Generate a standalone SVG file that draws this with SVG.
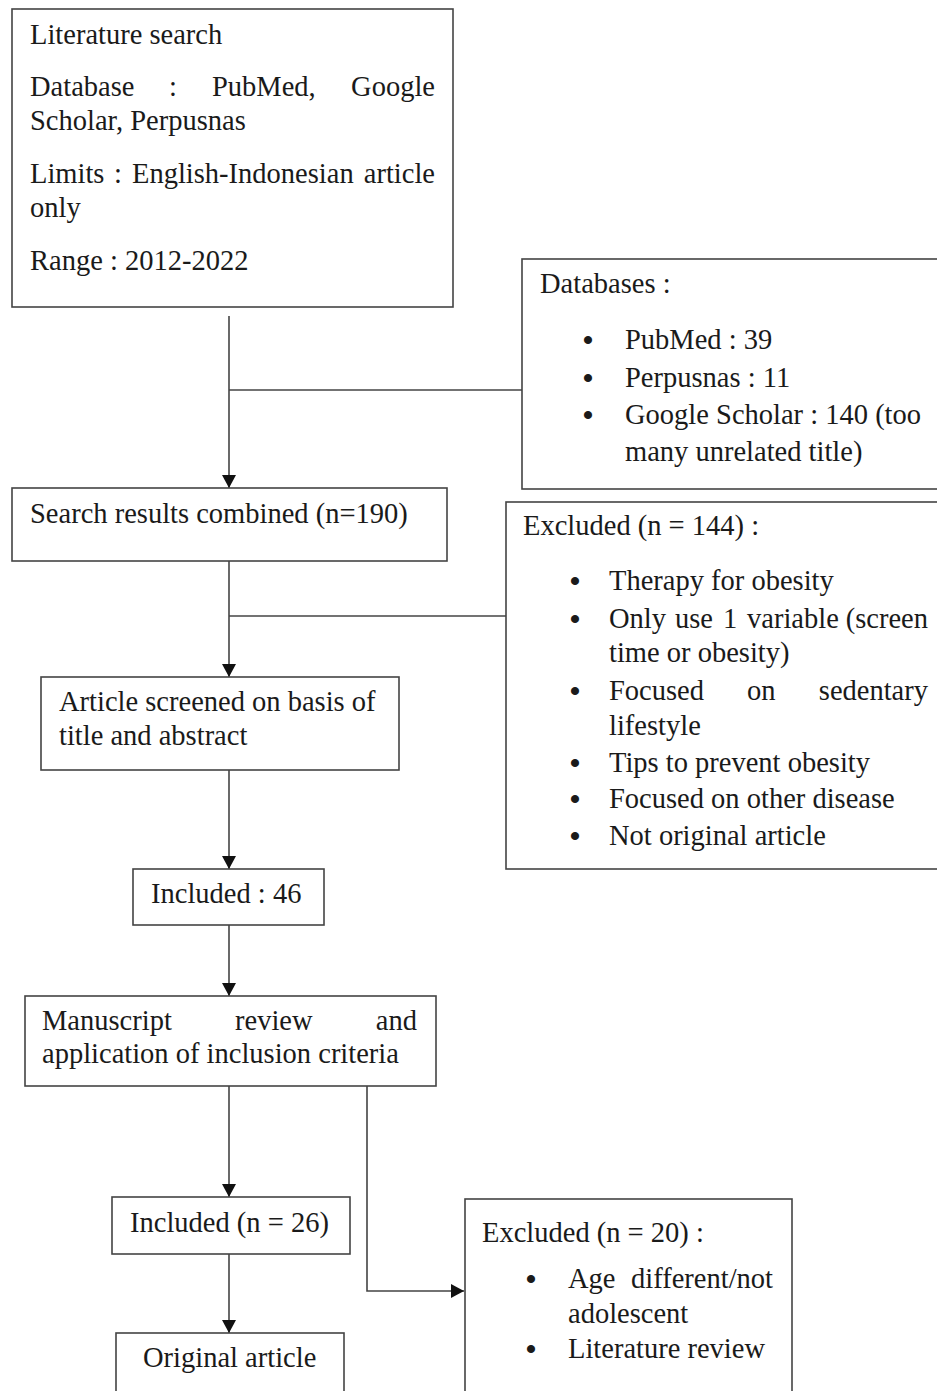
<svg xmlns="http://www.w3.org/2000/svg" width="937" height="1391" viewBox="0 0 937 1391">
<style>
  .box { fill: #fff; stroke: #444; stroke-width: 1.6; }
  .t { font-family: "Liberation Serif", "Times New Roman", serif; font-size: 28.5px; fill: #1a1a1a; }
  .b { font-family: "Liberation Serif", "Times New Roman", serif; font-size: 30px; font-weight: bold; fill: #1a1a1a; text-anchor: middle; }
  .e { text-anchor: end; }
  .conn { fill: none; stroke: #444; stroke-width: 1.6; }
</style>
<defs>
  <marker id="arr" markerUnits="userSpaceOnUse" markerWidth="14" markerHeight="14" refX="13" refY="7" orient="auto">
    <path d="M0,0 L13,7 L0,14 Z" fill="#111"/>
  </marker>
</defs>
<rect width="937" height="1391" fill="#fff"/>

<g id="connectors">
  <line class="conn" x1="229" y1="316" x2="229" y2="488" marker-end="url(#arr)"/>
  <line class="conn" x1="229" y1="390" x2="522" y2="390"/>
  <line class="conn" x1="229" y1="561" x2="229" y2="677" marker-end="url(#arr)"/>
  <line class="conn" x1="229" y1="616" x2="506" y2="616"/>
  <line class="conn" x1="229" y1="770" x2="229" y2="869" marker-end="url(#arr)"/>
  <line class="conn" x1="229" y1="925" x2="229" y2="996" marker-end="url(#arr)"/>
  <line class="conn" x1="229" y1="1086" x2="229" y2="1197" marker-end="url(#arr)"/>
  <line class="conn" x1="229" y1="1254" x2="229" y2="1333" marker-end="url(#arr)"/>
  <polyline class="conn" points="367,1086 367,1291 464,1291" marker-end="url(#arr)"/>
</g>

<g id="literature-search">
  <rect class="box" x="12" y="9" width="441" height="298"/>
  <text class="t" x="30" y="44">Literature search</text>
  <text class="t" y="96"><tspan x="30">Database</tspan><tspan x="169">:</tspan><tspan x="212">PubMed,</tspan><tspan x="435" class="e">Google</tspan></text>
  <text class="t" x="30" y="130">Scholar, Perpusnas</text>
  <text class="t" y="183"><tspan x="30">Limits</tspan><tspan x="114">:</tspan><tspan x="132">English-Indonesian</tspan><tspan x="435" class="e">article</tspan></text>
  <text class="t" x="30" y="217">only</text>
  <text class="t" x="30" y="270">Range : 2012-2022</text>
</g>

<g id="databases">
  <rect class="box" x="522" y="259" width="430" height="230"/>
  <text class="t" x="540" y="293">Databases :</text>
  <text class="b" x="588" y="350">•</text>
  <text class="t" x="625" y="349">PubMed : 39</text>
  <text class="b" x="588" y="388">•</text>
  <text class="t" x="625" y="387">Perpusnas : 11</text>
  <text class="b" x="588" y="425">•</text>
  <text class="t" x="625" y="424">Google Scholar : 140 (too</text>
  <text class="t" x="625" y="461">many unrelated title)</text>
</g>

<g id="search-results">
  <rect class="box" x="12" y="488" width="435" height="73"/>
  <text class="t" x="30" y="523">Search results combined (n=190)</text>
</g>

<g id="excluded-144">
  <rect class="box" x="506" y="502" width="446" height="367"/>
  <text class="t" x="523" y="535">Excluded (n = 144) :</text>
  <text class="b" x="575" y="591">•</text>
  <text class="t" x="609" y="590">Therapy for obesity</text>
  <text class="b" x="575" y="629">•</text>
  <text class="t" y="628"><tspan x="609">Only</tspan><tspan x="675">use</tspan><tspan x="723">1</tspan><tspan x="747">variable</tspan><tspan x="928" class="e">(screen</tspan></text>
  <text class="t" x="609" y="662">time or obesity)</text>
  <text class="b" x="575" y="701">•</text>
  <text class="t" y="700"><tspan x="609">Focused</tspan><tspan x="747">on</tspan><tspan x="928" class="e">sedentary</tspan></text>
  <text class="t" x="609" y="735">lifestyle</text>
  <text class="b" x="575" y="773">•</text>
  <text class="t" x="609" y="772">Tips to prevent obesity</text>
  <text class="b" x="575" y="809">•</text>
  <text class="t" x="609" y="808">Focused on other disease</text>
  <text class="b" x="575" y="846">•</text>
  <text class="t" x="609" y="845">Not original article</text>
</g>

<g id="article-screened">
  <rect class="box" x="41" y="677" width="358" height="93"/>
  <text class="t" x="59" y="711">Article screened on basis of</text>
  <text class="t" x="59" y="745">title and abstract</text>
</g>

<g id="included-46">
  <rect class="box" x="133" y="869" width="191" height="56"/>
  <text class="t" x="151" y="903">Included : 46</text>
</g>

<g id="manuscript-review">
  <rect class="box" x="25" y="996" width="411" height="90"/>
  <text class="t" y="1030"><tspan x="42">Manuscript</tspan><tspan x="235">review</tspan><tspan x="417" class="e">and</tspan></text>
  <text class="t" x="42" y="1063">application of inclusion criteria</text>
</g>

<g id="included-26">
  <rect class="box" x="112" y="1197" width="238" height="57"/>
  <text class="t" x="130" y="1232">Included (n = 26)</text>
</g>

<g id="original-article">
  <rect class="box" x="116" y="1333" width="228" height="70"/>
  <text class="t" x="143" y="1367">Original article</text>
</g>

<g id="excluded-20">
  <rect class="box" x="465" y="1199" width="327" height="205"/>
  <text class="t" x="482" y="1242">Excluded (n = 20) :</text>
  <text class="b" x="531" y="1289">•</text>
  <text class="t" y="1288"><tspan x="568">Age</tspan><tspan x="773" class="e">different/not</tspan></text>
  <text class="t" x="568" y="1323">adolescent</text>
  <text class="b" x="531" y="1359">•</text>
  <text class="t" x="568" y="1358">Literature review</text>
</g>
</svg>
